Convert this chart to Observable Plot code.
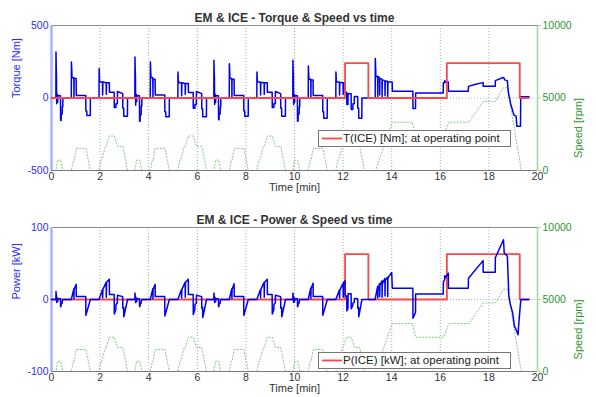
<!DOCTYPE html>
<html>
<head>
<meta charset="utf-8">
<script src="https://cdn.jsdelivr.net/npm/d3@7"></script>
<script src="https://cdn.jsdelivr.net/npm/@observablehq/plot@0.6"></script>
<style>
  body { margin: 0; background: #fff; font-family: "Liberation Sans", Arial, sans-serif; }
  #chart { position: relative; width: 596px; height: 397px; overflow: hidden; }
  .panel { position: absolute; left: 0; width: 596px; }
  .panel svg { position: absolute; left: 0; top: 0; }
  .legend { position: absolute; box-sizing: border-box; background: #fff; border: 1px solid #777;
            font-size: 11.5px; color: #222; white-space: nowrap; }
  .legend svg { position: absolute; left: 3px; top: 0; }
  .legend span { position: absolute; left: 24px; top: 0px; line-height: 15px; }
</style>
</head>
<body>
<div id="chart"></div>
<script>
// ---- time axis ticks [min]
const timeTicks = [0, 2, 4, 6, 8, 10, 12, 14, 16, 18, 20];

// ---- vehicle cycle: motor speed [rpm] vs time [min]
const speedRpm = [
  [0,0],[0.183,0],[0.25,715],[0.383,715],[0.467,0],[0.817,0],[0.9,715],[0.933,715],[1.017,1525],[1.417,1525],[1.6,0],
  [1.95,0],[2.033,715],[2.067,715],[2.217,1665],[2.25,1665],[2.383,2380],[2.583,2380],[2.717,1665],[2.933,1665],[3.133,0],
  [3.433,0],[3.5,715],[3.633,715],[3.717,0],[4.067,0],[4.15,715],[4.183,715],[4.267,1525],[4.667,1525],[4.85,0],
  [5.2,0],[5.283,715],[5.317,715],[5.467,1665],[5.5,1665],[5.633,2380],[5.833,2380],[5.967,1665],[6.183,1665],[6.383,0],
  [6.683,0],[6.75,715],[6.883,715],[6.967,0],[7.317,0],[7.4,715],[7.433,715],[7.517,1525],[7.917,1525],[8.1,0],
  [8.45,0],[8.533,715],[8.567,715],[8.717,1665],[8.75,1665],[8.883,2380],[9.083,2380],[9.217,1665],[9.433,1665],[9.633,0],
  [9.933,0],[10.0,715],[10.133,715],[10.217,0],[10.567,0],[10.65,715],[10.683,715],[10.767,1525],[11.167,1525],[11.35,0],
  [11.7,0],[11.783,715],[11.817,715],[11.967,1665],[12.0,1665],[12.133,2380],[12.333,2380],[12.467,1665],[12.683,1665],[12.883,0],
  [13.333,0],[14.017,3330],[14.85,3330],[14.983,2380],[16.133,2380],[16.35,3330],[17.183,3330],
  [17.767,4760],[18.267,4760],[18.6,5710],[18.767,5710],[19.333,0],[19.667,0]
];

// ---- ICE torque [Nm] and power [kW] at its operating point
const iceTorque = [[0,0],[12.08,0],[12.08,240],[13.04,240],[13.04,0],[16.27,0],[16.27,240],[19.27,240],[19.27,0],[19.64,0]];
const icePower  = [[0,0],[12.08,0],[12.08,63],[13.04,63],[13.04,0],[16.27,0],[16.27,63],[19.27,63],[19.27,0],[19.64,0]];

// ---- electric machine torque [Nm]
const emTorque = [
  [0,0],[0.18,0],[0.185,317],[0.195,200],[0.205,160],[0.21,30],[0.215,-40],[0.22,25],[0.25,25],[0.255,-30],[0.26,15],[0.37,15],
  [0.375,-155],[0.395,-155],[0.4,-110],[0.44,-110],[0.445,-60],[0.465,-60],[0.47,0],
  [0.815,0],[0.82,248],[0.835,190],[0.845,140],[0.92,140],[0.925,0],[0.93,135],[1.015,135],[1.02,18],[1.41,18],
  [1.415,-90],[1.45,-90],[1.455,-120],[1.595,-120],[1.6,0],
  [1.955,0],[1.96,203],[1.975,130],[1.985,110],[2.1,110],[2.105,20],[2.115,110],[2.25,105],[2.255,25],[2.265,105],[2.38,105],
  [2.385,40],[2.58,40],[2.585,-65],[2.65,-65],[2.655,-40],[2.71,-40],[2.715,45],[2.93,30],[2.935,-70],[2.97,-70],[2.975,-125],[3.125,-125],[3.13,0],
  [3.43,0],[3.435,283],[3.445,190],[3.455,150],[3.46,20],[3.465,-50],[3.47,25],[3.5,25],[3.505,-25],[3.51,15],[3.62,15],
  [3.625,-160],[3.645,-160],[3.65,-115],[3.69,-115],[3.695,-55],[3.715,-55],[3.72,0],
  [4.065,0],[4.07,248],[4.085,180],[4.095,140],[4.17,140],[4.175,5],[4.18,130],[4.265,130],[4.27,20],[4.66,20],
  [4.665,-95],[4.7,-95],[4.705,-130],[4.845,-130],[4.85,0],
  [5.2,0],[5.205,179],[5.22,125],[5.235,105],[5.35,105],[5.355,15],[5.365,105],[5.5,100],[5.505,25],[5.515,100],[5.63,100],
  [5.635,38],[5.83,38],[5.835,-70],[5.9,-70],[5.905,-45],[5.96,-45],[5.965,45],[6.18,30],[6.185,-75],[6.22,-75],[6.225,-130],[6.375,-130],[6.38,0],
  [6.68,0],[6.685,260],[6.695,185],[6.705,140],[6.71,25],[6.715,-45],[6.72,25],[6.75,25],[6.755,-30],[6.76,15],[6.87,15],
  [6.875,-150],[6.895,-150],[6.9,-110],[6.94,-110],[6.945,-60],[6.965,-60],[6.97,0],
  [7.315,0],[7.32,237],[7.335,175],[7.345,135],[7.42,135],[7.425,0],[7.43,130],[7.515,130],[7.52,18],[7.91,18],
  [7.915,-90],[7.95,-90],[7.955,-125],[8.095,-125],[8.1,0],
  [8.45,0],[8.455,179],[8.47,125],[8.485,110],[8.6,110],[8.605,20],[8.615,108],[8.75,105],[8.755,25],[8.765,105],[8.88,105],
  [8.885,40],[9.08,40],[9.085,-65],[9.15,-65],[9.155,-40],[9.21,-40],[9.215,45],[9.43,30],[9.435,-70],[9.47,-70],[9.475,-125],[9.625,-125],[9.63,0],
  [9.93,0],[9.935,260],[9.945,190],[9.955,150],[9.96,25],[9.965,-45],[9.97,25],[10.0,25],[10.005,-30],[10.01,15],[10.12,15],
  [10.125,-160],[10.145,-160],[10.15,-110],[10.19,-110],[10.195,-60],[10.215,-60],[10.22,0],
  [10.565,0],[10.57,220],[10.585,165],[10.595,130],[10.67,130],[10.675,0],[10.68,125],[10.765,125],[10.77,18],[11.16,18],
  [11.165,-95],[11.2,-95],[11.205,-140],[11.345,-140],[11.35,0],
  [11.7,0],[11.705,179],[11.72,125],[11.735,110],[11.85,110],[11.855,20],[11.865,108],[12.0,105],[12.005,25],[12.015,105],[12.08,105],
  [12.085,40],[12.15,40],[12.155,-45],[12.2,-45],[12.205,30],[12.33,30],[12.335,-80],[12.4,-80],[12.405,-40],[12.46,-40],[12.465,10],
  [12.6,10],[12.605,-70],[12.64,-70],[12.645,-140],[12.77,-140],[12.775,0],
  [13.32,0],[13.325,272],[13.34,200],[13.35,150],[13.42,145],[13.425,10],[13.435,150],[13.5,140],[13.505,20],[13.515,135],
  [13.6,130],[13.605,10],[13.615,125],[13.72,120],[13.725,15],[13.735,118],[13.83,115],[13.835,0],[13.845,110],[14.02,110],
  [14.025,46],[14.87,46],[14.875,-73],[14.98,-73],[14.985,35],[16.12,35],[16.125,105],[16.18,105],[16.185,121],[16.2,110],[16.33,110],
  [16.335,46],[17.15,46],[17.16,80],[17.45,95],[17.76,106],[17.765,81],[18.26,81],[18.265,120],[18.58,141],[18.62,138],[18.65,125],
  [18.76,120],[18.8,40],[18.9,-45],[19.0,-100],[19.04,-120],[19.12,-125],[19.15,-195],[19.3,-195],[19.31,8],[19.65,8]
];

// ---- electric machine power [kW]
const emPower = [
  [0,0],[0.18,0],[0.185,11],[0.195,7],[0.205,5],[0.21,0],[0.215,-4],[0.22,2],[0.25,2],[0.255,-3],[0.26,1],[0.37,1],
  [0.375,-10],[0.395,-9],[0.4,-6],[0.44,-5],[0.445,-2],[0.47,0],
  [0.815,0],[0.92,15],[0.925,1],[0.93,14],[1.015,21],[1.02,4],[1.41,4],[1.415,-22],[1.6,0],
  [1.955,0],[2.1,14],[2.105,2],[2.115,14],[2.25,24],[2.255,3],[2.265,24],[2.38,28],[2.385,7],[2.58,7],
  [2.585,-20],[2.65,-14],[2.655,-7],[2.71,-5],[2.715,6],[2.93,4],[2.935,-12],[2.97,-11],[2.975,-24],[3.13,0],
  [3.43,0],[3.435,9],[3.445,6],[3.455,4],[3.46,0],[3.465,-4],[3.47,2],[3.5,2],[3.505,-3],[3.51,1],[3.62,1],
  [3.625,-10],[3.645,-9],[3.65,-6],[3.69,-5],[3.695,-2],[3.72,0],
  [4.065,0],[4.17,15],[4.175,1],[4.18,14],[4.265,21],[4.27,4],[4.66,4],[4.665,-23],[4.85,0],
  [5.2,0],[5.35,14],[5.355,2],[5.365,14],[5.5,24],[5.505,3],[5.515,24],[5.63,28],[5.635,7],[5.83,7],
  [5.835,-21],[5.9,-14],[5.905,-7],[5.96,-5],[5.965,6],[6.18,4],[6.185,-12],[6.22,-11],[6.225,-25],[6.38,0],
  [6.68,0],[6.685,9],[6.695,6],[6.705,4],[6.71,0],[6.715,-4],[6.72,2],[6.75,2],[6.755,-3],[6.76,1],[6.87,1],
  [6.875,-10],[6.895,-9],[6.9,-6],[6.94,-5],[6.945,-2],[6.97,0],
  [7.315,0],[7.42,15],[7.425,1],[7.43,14],[7.515,22],[7.52,4],[7.91,4],[7.915,-22],[8.1,0],
  [8.45,0],[8.6,14],[8.605,2],[8.615,14],[8.75,24],[8.755,3],[8.765,24],[8.88,28],[8.885,7],[9.08,7],
  [9.085,-20],[9.15,-14],[9.155,-7],[9.21,-5],[9.215,6],[9.43,4],[9.435,-12],[9.47,-11],[9.475,-24],[9.63,0],
  [9.93,0],[9.935,9],[9.945,6],[9.955,4],[9.96,0],[9.965,-4],[9.97,2],[10.0,2],[10.005,-3],[10.01,1],[10.12,1],
  [10.125,-10],[10.145,-9],[10.15,-6],[10.19,-5],[10.195,-2],[10.22,0],
  [10.565,0],[10.67,16],[10.675,1],[10.68,15],[10.765,22.6],[10.77,4],[11.16,4],[11.165,-22],[11.35,0],
  [11.7,0],[11.85,13],[11.855,2],[11.865,13],[12.0,23],[12.005,3],[12.015,23],[12.08,26],
  [12.085,5],[12.15,5],[12.155,-16],[12.2,-12],[12.205,8],[12.33,8],[12.335,-13],[12.4,-8],[12.405,-5],[12.46,-4],[12.465,1.5],
  [12.6,1],[12.605,-12],[12.64,-11],[12.645,-24],[12.775,0],
  [13.32,0],[13.325,2],[13.42,18],[13.425,2],[13.435,14],[13.5,22],[13.505,4],[13.515,20],[13.6,26],[13.605,3],[13.615,22],
  [13.72,29],[13.725,5],[13.735,27],[13.83,31],[13.835,4],[13.845,30],[14.0,37.5],[14.025,15.7],[14.87,15.7],
  [14.875,-26],[14.98,-18],[14.985,7.8],[16.12,7.8],[16.125,24],[16.18,28],[16.185,33],[16.2,30],[16.33,36.5],[16.335,15.7],
  [17.15,15.7],[17.16,29.6],[17.76,54],[17.765,38],[18.26,38],[18.265,58],[18.6,83],[18.63,65],[18.76,60],
  [18.82,5],[18.87,-5],[18.98,-19],[19.05,-37],[19.12,-42],[19.2,-49],[19.22,-38],[19.3,-5],[19.32,0],[19.65,0]
];

const BLUE = "#2a2aff", GREEN = "#2e962e", EM = "#0000f0", ICE = "#ff4646";
const W = 596, ML = 51, MR = 59;
const FONT = "'Liberation Sans', Arial, sans-serif";
const tx = d => d[0], ty = d => d[1];
const plain = d => String(d);

function panel({top, height, mt, mb, yDomain, yLabel, title, em, ice, iceOnTop, legendText, legendTop}) {
  const wrap = document.createElement("div");
  wrap.className = "panel";
  wrap.style.top = top + "px";
  wrap.style.height = height + "px";

  const common = {
    width: W, height, marginLeft: ML, marginRight: MR, marginTop: mt, marginBottom: mb,
    style: {background: "transparent", fontFamily: FONT, fontSize: "10px", overflow: "visible"}
  };

  // right axis: speed
  const speedPlot = Plot.plot({
    ...common,
    x: {domain: [0, 20], axis: null},
    y: {domain: [0, 10000]},
    marks: [
      Plot.line(speedRpm, {x: tx, y: ty, stroke: "#5cb85c", strokeOpacity: 0.75, strokeWidth: 1, strokeDasharray: "1.2,2"}),
      Plot.ruleX([20], {stroke: "#a5d8a5", strokeWidth: 1.6}),
      Plot.axisY({anchor: "right", ticks: [0, 5000, 10000], tickFormat: plain, tickSize: 3, tickPadding: 2,
                  stroke: "#a5d8a5", fill: GREEN, fontSize: 10.5, label: null}),
      Plot.text(["Speed [rpm]"], {frameAnchor: "right", rotate: -90, dx: 41, fill: GREEN, fontSize: 11})
    ]
  });

  const emLine = Plot.line(em, {x: tx, y: ty, stroke: EM, strokeWidth: 1.5});
  const iceLine = Plot.line(ice, {x: tx, y: ty, stroke: ICE, strokeWidth: 1.8});

  // left axis: EM / ICE quantity
  const mainPlot = Plot.plot({
    ...common,
    x: {domain: [0, 20]},
    y: {domain: yDomain},
    marks: [
      Plot.gridX(timeTicks.slice(1, -1), {stroke: "#a8a8a8", strokeOpacity: 1, strokeDasharray: "1,2"}),
      Plot.ruleY([0], {stroke: "#a9b0f5", strokeDasharray: "1,2"}),
      Plot.ruleY([yDomain[1]], {stroke: "#8c8c8c"}),
      Plot.ruleY([yDomain[0]], {stroke: "#7a7a7a"}),
      Plot.ruleX([0], {stroke: "#aab2ff", strokeWidth: 2.5}),
      Plot.axisX({ticks: timeTicks, tickFormat: plain, tickSize: 0, tickPadding: 2, fill: "#333", fontSize: 10.5, label: null}),
      Plot.axisY({ticks: [yDomain[0], 0, yDomain[1]], tickFormat: plain, tickSize: 0, tickPadding: 3,
                  fill: BLUE, fontSize: 10.5, label: null}),
      ...(iceOnTop ? [emLine, iceLine] : [iceLine, emLine]),
      Plot.text([title], {frameAnchor: "top", dy: -12, fontWeight: "bold", fontSize: 12, fill: "#333"}),
      Plot.text(["Time [min]"], {frameAnchor: "bottom", dy: 20.5, fontSize: 11, fill: "#333"}),
      Plot.text([yLabel], {frameAnchor: "left", rotate: -90, dx: -35, fill: BLUE, fontSize: 11})
    ]
  });

  wrap.append(speedPlot, mainPlot);

  const legend = document.createElement("div");
  legend.className = "legend";
  legend.style.left = "318px";
  legend.style.top = (legendTop - top) + "px";
  legend.style.width = "193px";
  legend.style.height = "17px";
  legend.innerHTML = `<svg width="20" height="15"><line x1="0" x2="20" y1="7.5" y2="7.5" stroke="${ICE}" stroke-width="1.8"/></svg><span>${legendText}</span>`;
  wrap.append(legend);
  return wrap;
}

const chart = document.getElementById("chart");
chart.append(
  panel({top: 0, height: 196, mt: 25, mb: 26, yDomain: [-500, 500], yLabel: "Torque [Nm]",
         title: "EM & ICE - Torque & Speed vs time", em: emTorque, ice: iceTorque, iceOnTop: true,
         legendText: "T(ICE) [Nm]; at operating point", legendTop: 130}),
  panel({top: 200, height: 197, mt: 27, mb: 26, yDomain: [-100, 100], yLabel: "Power [kW]",
         title: "EM & ICE - Power & Speed vs time", em: emPower, ice: icePower, iceOnTop: false,
         legendText: "P(ICE) [kW]; at operating point", legendTop: 352})
);
</script>
</body>
</html>
